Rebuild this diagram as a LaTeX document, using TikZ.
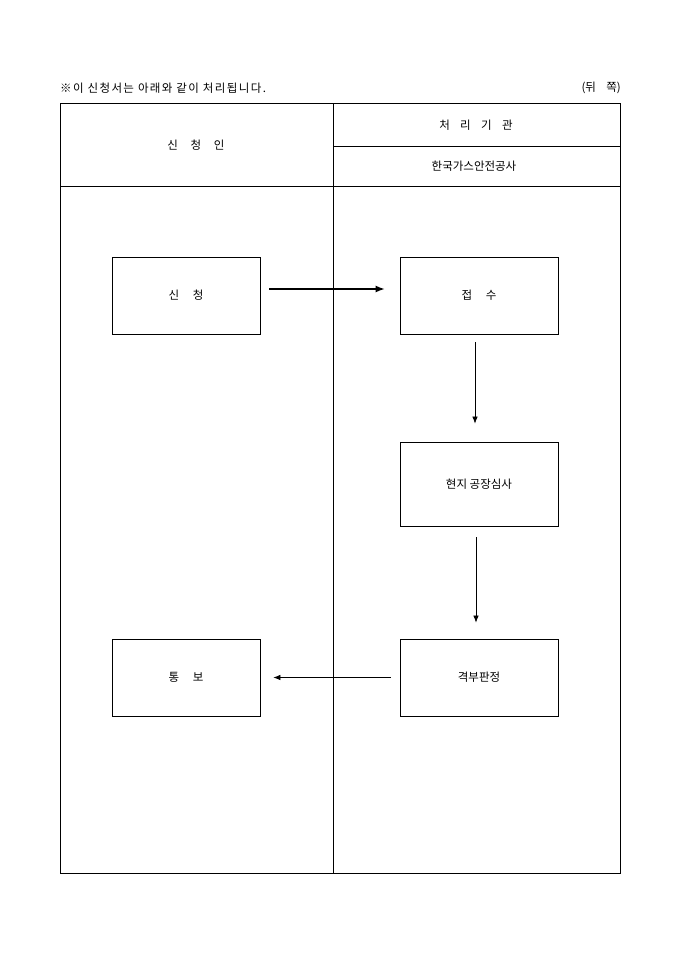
\documentclass[tikz,border=0pt]{standalone}
\usepackage{fontspec}
\setmainfont{Noto Sans CJK KR}
\newfontfamily\widekr[LetterSpace=12]{Noto Sans CJK KR}
\usetikzlibrary{positioning,arrows.meta}
\tikzset{stepbox/.style={draw,line width=0.8pt,minimum width=148pt,minimum height=77pt,inner sep=0pt,font=\fontsize{11.5}{13}\selectfont},
lbl/.style={inner sep=0pt,font=\fontsize{11.5}{13}\selectfont},
flow/.style={line width=0.7pt,-{Latex[length=7pt,width=5.5pt]}}}
\begin{document}
\begin{tikzpicture}[x=1pt,y=-1pt]
\useasboundingbox (0,0) rectangle (680,962);
\draw[line width=0.8pt] (60,103) rectangle (620,873);
\draw[line width=0.8pt] (333,103) -- (333,873);
\draw[line width=0.8pt] (60,186) -- (620,186);
\draw[line width=0.8pt] (333,146) -- (620,146);
\node[lbl,anchor=west,font=\widekr\fontsize{11.5}{13}\selectfont] (note) at (60,88) {※이 신청서는 아래와 같이 처리됩니다.};
\node[lbl,anchor=east] (side) at (621,88) {(뒤\hspace{0.9em}쪽)};
\node[lbl] (who) at (196,145) {신\hspace{1.1em}청\hspace{1.1em}인};
\node[lbl] (org) at (476,125) {처\hspace{0.9em}리\hspace{0.9em}기\hspace{0.9em}관};
\node[lbl] (kgs) at (474,166) {한국가스안전공사};
\node[stepbox] (apply) at (186,295.5) {신\hspace{1.2em}청};
\node[stepbox,minimum width=158pt] (recv) at (479,295.5) {접\hspace{1.2em}수};
\node[stepbox,minimum width=158pt,minimum height=84pt] (audit) at (479,484) {현지 공장심사};
\node[stepbox,minimum width=158pt] (judge) at (479,677.5) {격부판정};
\node[stepbox] (notify) at (186,677.5) {통\hspace{1.2em}보};
\draw[flow,line width=1.3pt,-{Latex[length=9pt,width=7pt]},shorten <=9pt,shorten >=15pt] (apply.east |- 0,289) -- (recv.west |- 0,289);
\draw[flow,shorten <=8pt,shorten >=18pt] (recv.south -| 475,0) -- (audit.north -| 475,0);
\draw[flow,shorten <=11pt,shorten >=16pt] (audit.south -| 476,0) -- (judge.north -| 476,0);
\draw[flow,shorten <=9pt,shorten >=13pt] (judge.west) -- (notify.east);
\end{tikzpicture}
\end{document}
